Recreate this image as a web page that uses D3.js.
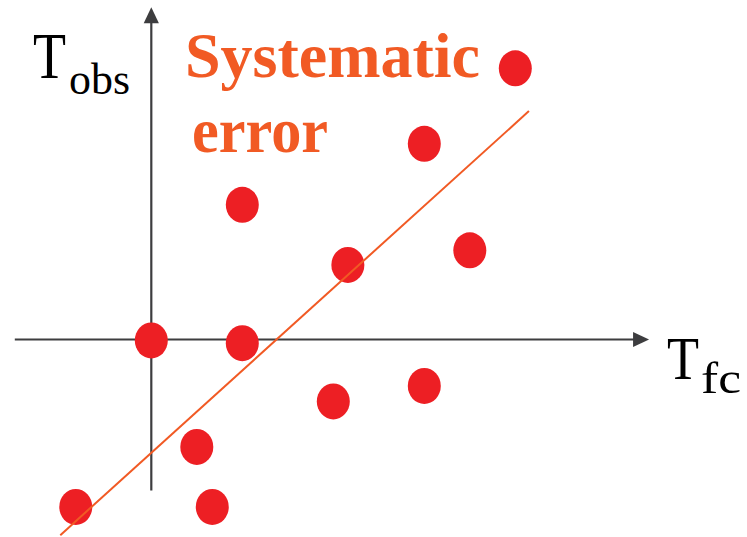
<!DOCTYPE html>
<html>
<head>
<meta charset="utf-8">
<script src="https://cdn.jsdelivr.net/npm/d3@7"></script>
<style>
  html, body { margin: 0; padding: 0; background: #fff; }
  svg { display: block; }
  text { font-family: "Liberation Serif", "Times New Roman", "DejaVu Serif", serif; }
</style>
</head>
<body>
<div id="chart"></div>
<script>
// forecast vs observed temperature, in axis units (origin where the axes cross)
const tFc  = [4, 3, 1, 3.5, 2.16, 0, 1, 2, 3, 0.5, -0.83, 0.67];
const tObs = [2.98, 2.15, 1.48, 0.98, 0.82, -0.01, -0.04, -0.68, -0.51, -1.18, -1.84, -1.84];

// systematic error line endpoints
const lineFc  = [-1.0, 4.15];
const lineObs = [-2.15, 2.51];

// axis extents
const xAxisExtent = [-1.5, 5.47];
const yAxisExtent = [-1.66, 3.65];

const width = 747, height = 537;

const x = d3.scaleLinear().domain([-1.5, 5.5]).range([14.8, 651.8]);
const y = d3.scaleLinear().domain([-1.7, 3.7]).range([494.2, 2.8]);

const svg = d3.select("#chart")
  .append("svg")
  .attr("width", width)
  .attr("height", height);

const axisColor = "#3d3d3f";
const arrowLen = 16, arrowHalf = 7.6;

// x axis
svg.append("line")
  .attr("x1", x(xAxisExtent[0])).attr("y1", y(0))
  .attr("x2", x(xAxisExtent[1]) - arrowLen + 1).attr("y2", y(0))
  .attr("stroke", axisColor).attr("stroke-width", 2.2);
svg.append("path")
  .attr("d", `M${x(xAxisExtent[1])},${y(0)} L${x(xAxisExtent[1]) - arrowLen},${y(0) - arrowHalf} L${x(xAxisExtent[1]) - arrowLen},${y(0) + arrowHalf} Z`)
  .attr("fill", axisColor);

// y axis
svg.append("line")
  .attr("x1", x(0)).attr("y1", y(yAxisExtent[0]))
  .attr("x2", x(0)).attr("y2", y(yAxisExtent[1]) + arrowLen - 1)
  .attr("stroke", axisColor).attr("stroke-width", 2.2);
svg.append("path")
  .attr("d", `M${x(0)},${y(yAxisExtent[1])} L${x(0) - arrowHalf},${y(yAxisExtent[1]) + arrowLen} L${x(0) + arrowHalf},${y(yAxisExtent[1]) + arrowLen} Z`)
  .attr("fill", axisColor);

// points
svg.append("g")
  .attr("fill", "#ed1f24")
  .selectAll("ellipse")
  .data(tFc.map((d, i) => [d, tObs[i]]))
  .join("ellipse")
    .attr("cx", d => x(d[0]))
    .attr("cy", d => y(d[1]))
    .attr("rx", 16.5)
    .attr("ry", 18);

// systematic error line
svg.append("line")
  .attr("x1", x(lineFc[0])).attr("y1", y(lineObs[0]))
  .attr("x2", x(lineFc[1])).attr("y2", y(lineObs[1]))
  .attr("stroke", "#f15a24").attr("stroke-width", 2);

// labels
function label(txt, px, py, size, len, opts = {}) {
  return svg.append("text")
    .attr("x", px).attr("y", py)
    .attr("font-size", size)
    .attr("font-weight", opts.bold ? "bold" : null)
    .attr("fill", opts.fill || "#000")
    .attr("textLength", len).attr("lengthAdjust", "spacingAndGlyphs")
    .text(txt);
}

label("T", 33, 77.7, 66, 33);
label("obs", 69, 93.5, 45, 61);

label("T", 667, 379, 62, 32);
label("fc", 701, 393.3, 45, 40);

label("Systematic", 185, 77, 64, 295, {bold: true, fill: "#f15a24"});
label("error", 192, 152, 64, 136, {bold: true, fill: "#f15a24"});
</script>
</body>
</html>
